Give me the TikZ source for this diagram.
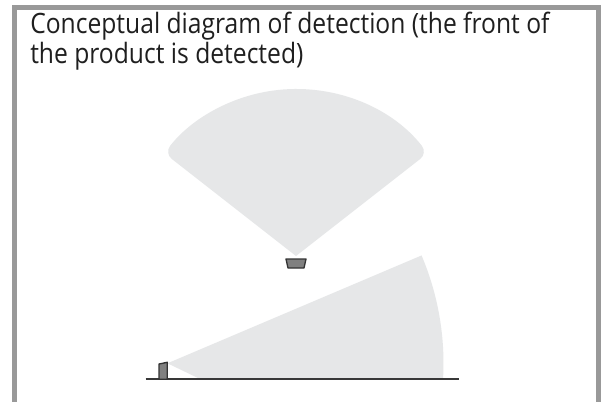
\documentclass[tikz,border=0pt]{standalone}
\usepackage{fontspec}
\setmainfont{Open Sans}[FakeStretch=0.88]
\begin{document}
\begin{tikzpicture}[x=0.75pt,y=0.75pt,
  framec/.style={draw=black!40, line width=3.6pt, line join=miter},
  fan/.style={fill=fanc},
  sensor/.style={fill=black!50, draw=black!80, line width=1pt, line join=round},
  ground/.style={draw=black!78, line width=1.6pt},
  title/.style={anchor=base west, inner sep=0pt, align=left, text=black!88,
    font=\fontsize{21pt}{18pt}\selectfont}]
\definecolor{fanc}{HTML}{E6E7E8}
\useasboundingbox (0,0) rectangle (601,401);
\fill[white] (0,0) rectangle (601,401);
% frame (open at bottom)
\draw[framec] (14.5,-5) -- (14.5,393.5) -- (598.5,393.5) -- (598.5,-5);
% title
\node[title] (title) at (30,338) {Conceptual diagram of detection (the front of\\the product is detected)};
% upper detection fan
\coordinate (topapex) at (296,145);
\fill[fan] (topapex) [rounded corners=7pt] -- ++(38:167) arc[start angle=38, end angle=142, radius=167] [sharp corners] -- (topapex) -- cycle;
% upper sensor
\draw[sensor] (286,142) -- (306,142) -- (304,133) -- (288,133) -- cycle;
% lower detection fan
\coordinate (lowapex) at (167.5,37.7);
\fill[fan] (lowapex) -- ++(23:276) arc[start angle=23, end angle=-3.26, radius=276] -- (200,22) -- cycle;
% ground line
\coordinate (gl) at (145.7,21.7);
\coordinate (gr) at (459,21.7);
\draw[ground] (gl) -- (gr);
% lower sensor post
\draw[sensor] (159,21.7) -- (159,37) -- (167.3,38.7) -- (167.3,21.7) -- cycle;
\end{tikzpicture}
\end{document}
